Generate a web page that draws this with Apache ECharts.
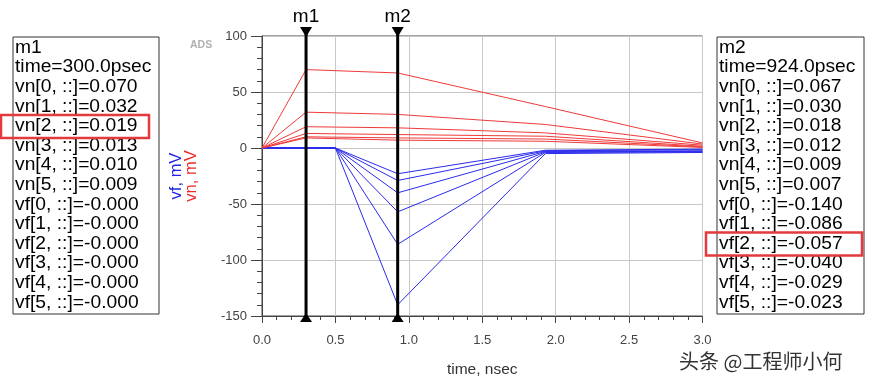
<!DOCTYPE html>
<html>
<head>
<meta charset="utf-8">
<script src="https://cdn.jsdelivr.net/npm/echarts@6/dist/echarts.min.js"></script>
<style>
html,body{margin:0;padding:0;background:#fff;}
#chart{width:871px;height:384px;}
</style>
</head>
<body>
<div id="chart"></div>
<script>
// ---- data (mV vs nsec) ----
var timeVn = [0, 0.3, 0.924, 1.93, 3.0];
var vn0 = [0, 70, 67, 37, 4.5];
var vn1 = [0, 32, 30, 21, 3.5];
var vn2 = [0, 19, 18, 13.5, 2.5];
var vn3 = [0, 13, 12, 10.5, 1.5];
var vn4 = [0, 10, 9, 8, 1];
var vn5 = [0, 9, 7, 6, 0.5];

var timeVf = [0, 0.3, 0.5, 0.924, 1.93, 3.0];
var vf0 = [0, 0, 0, -140, -5, -4];
var vf1 = [0, 0, 0, -86, -4, -3.5];
var vf2 = [0, 0, 0, -57, -3.5, -3];
var vf3 = [0, 0, 0, -40, -3, -2.5];
var vf4 = [0, 0, 0, -29, -2.5, -1.5];
var vf5 = [0, 0, 0, -23, -2, -1];

var markerNames = ['m1', 'm2'];
var markerTimes = [0.3, 0.924];
var markerTimeText = ['300.0psec', '924.0psec'];
var m1Vn = ['0.070', '0.032', '0.019', '0.013', '0.010', '0.009'];
var m1Vf = ['-0.000', '-0.000', '-0.000', '-0.000', '-0.000', '-0.000'];
var m2Vn = ['0.067', '0.030', '0.018', '0.012', '0.009', '0.007'];
var m2Vf = ['-0.140', '-0.086', '-0.057', '-0.040', '-0.029', '-0.023'];

var yMin = -150, yMax = 100, yStep = 50;
var xMin = 0, xMax = 3, xStep = 0.5;

// ---- build ----
var RED = '#f03a3a', BLUE = '#2b2bec';
function pairs(t, v) { return t.map(function (x, i) { return [x, v[i]]; }); }
var series = [];
[vf0, vf1, vf2, vf3, vf4, vf5].forEach(function (v, i) {
  series.push({ type: 'line', name: 'vf' + i, data: pairs(timeVf, v), symbol: 'none',
    lineStyle: { color: BLUE, width: 1 }, silent: true, z: 3 });
});
[vn0, vn1, vn2, vn3, vn4, vn5].forEach(function (v, i) {
  series.push({ type: 'line', name: 'vn' + i, data: pairs(timeVn, v), symbol: 'none',
    lineStyle: { color: RED, width: 1 }, silent: true, z: 3 });
});
series.push({
  type: 'custom', name: 'markers', clip: false, z: 10, silent: true,
  data: markerTimes.map(function (t, i) { return [t, i]; }),
  renderItem: function (params, api) {
    var t = api.value(0), idx = api.value(1);
    var top = api.coord([t, yMax]), bot = api.coord([t, yMin]);
    var x = top[0];
    return { type: 'group', children: [
      { type: 'line', shape: { x1: x, y1: top[1] - 6, x2: x, y2: bot[1] + 6 },
        style: { stroke: '#000', lineWidth: 3 } },
      { type: 'polygon', shape: { points: [[x - 6, top[1] - 9], [x + 6, top[1] - 9], [x, top[1] + 1]] },
        style: { fill: '#000' } },
      { type: 'polygon', shape: { points: [[x - 6, bot[1] + 6], [x + 6, bot[1] + 6], [x, bot[1] - 3]] },
        style: { fill: '#000' } },
      { type: 'text', x: x, y: top[1] - 10,
        style: { text: markerNames[idx], align: 'center', verticalAlign: 'bottom',
          fontSize: 19, fontFamily: 'Liberation Sans, Arial', fill: '#000' } }
    ]};
  }
});

function boxGraphic(left, width, name, timeText, vnArr, vfArr, hiIdx, hiX, hiW) {
  var lines = [name, 'time=' + timeText];
  vnArr.forEach(function (s, i) { lines.push('vn[' + i + ', ::]=' + s); });
  vfArr.forEach(function (s, i) { lines.push('vf[' + i + ', ::]=' + s); });
  var top = 37, lh = 19.6, first = 48;
  var children = [{ type: 'rect', shape: { x: left, y: top, width: width, height: 277 },
    style: { fill: '#fff', stroke: '#333', lineWidth: 1 } }];
  lines.forEach(function (s, i) {
    children.push({ type: 'text', x: left + 2, y: first + i * lh, scaleX: 1.1,
      style: { text: s, fontSize: 17.5, fontFamily: 'Liberation Sans, Arial', fill: '#000',
        verticalAlign: 'middle', align: 'left' } });
  });
  children.push({ type: 'rect', shape: { x: hiX, y: first + hiIdx * lh - 11.5, width: hiW, height: 23 },
    style: { fill: 'none', stroke: '#e43a3e', lineWidth: 2.5 } });
  return { type: 'group', children: children };
}

var chart = echarts.init(document.getElementById('chart'));
chart.setOption({
  backgroundColor: '#fff',
  animation: false,
  grid: { left: 262, top: 36, width: 440.5, height: 280, show: true, borderColor: '#444', borderWidth: 1 },
  xAxis: {
    type: 'value', min: xMin, max: xMax, interval: xStep,
    name: 'time, nsec', nameLocation: 'middle', nameGap: 46,
    nameTextStyle: { fontSize: 15.5, color: '#333', fontFamily: 'Liberation Sans, Arial' },
    axisLine: { show: true, onZero: false, lineStyle: { color: '#444' } },
    axisTick: { show: true, inside: false, length: 7, lineStyle: { color: '#444' } },
    minorTick: { show: true, splitNumber: 5, length: 4, lineStyle: { color: '#444' } },
    axisLabel: { margin: 18, fontSize: 13, color: '#444', fontFamily: 'Liberation Sans, Arial',
      formatter: function (v) { return v.toFixed(1); } },
    splitLine: { show: true, lineStyle: { color: '#c8c8c8', width: 1 } }
  },
  yAxis: {
    type: 'value', min: yMin, max: yMax, interval: yStep,
    name: '{b|vf, mV}\n{r|vn, mV}', nameLocation: 'middle', nameGap: 63, nameRotate: 90,
    nameTextStyle: { fontFamily: 'Liberation Sans, Arial', rich: {
      b: { color: '#2323e6', fontSize: 16.5, lineHeight: 15 },
      r: { color: '#ee2a2a', fontSize: 16.5, lineHeight: 15 } } },
    axisLine: { show: true, onZero: false, lineStyle: { color: '#444' } },
    axisTick: { show: true, length: 11, lineStyle: { color: '#444' } },
    minorTick: { show: true, splitNumber: 5, length: 5, lineStyle: { color: '#444' } },
    axisLabel: { margin: 15, fontSize: 13, color: '#444', fontFamily: 'Liberation Sans, Arial' },
    splitLine: { show: true, lineStyle: { color: '#c8c8c8', width: 1 } }
  },
  graphic: [
    boxGraphic(13, 146, markerNames[0], markerTimeText[0], m1Vn, m1Vf, 4, 1, 148),
    boxGraphic(717, 147, markerNames[1], markerTimeText[1], m2Vn, m2Vf, 10, 706, 156),
    { type: 'text', x: 190, y: 45, style: { text: 'ADS', fontSize: 10.5, fontWeight: 'bold',
      fill: '#b0b0b0', fontFamily: 'Liberation Sans, Arial', verticalAlign: 'middle' } },
    { type: 'text', x: 679, y: 361, style: { text: '头条 @工程师小何', fontSize: 20,
      fill: '#333', fontFamily: 'Noto Sans CJK SC', verticalAlign: 'middle' } }
  ],
  series: series
});
</script>
</body>
</html>
